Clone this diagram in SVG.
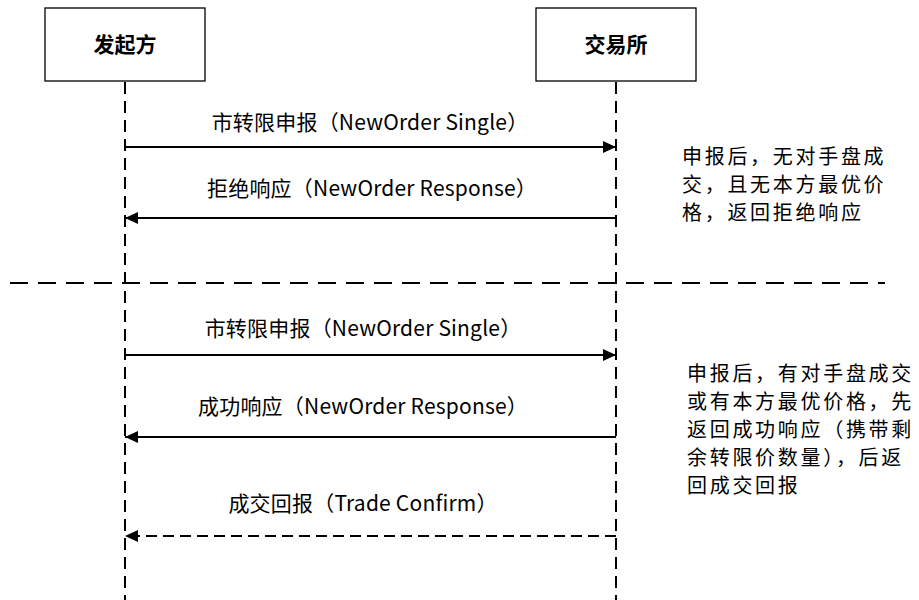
<svg xmlns="http://www.w3.org/2000/svg" width="919" height="600" viewBox="0 0 919 600">
<defs>
<style>
.box{fill:#fff;stroke:#000;stroke-width:1.3}
.title{font-family:"Noto Sans CJK SC","Liberation Sans",sans-serif;font-size:21px;font-weight:bold;text-anchor:middle;fill:#000}
.life{stroke:#000;stroke-width:2;stroke-dasharray:12 7;fill:none}
.msg{stroke:#000;stroke-width:2;fill:none}
.dmsg{stroke:#000;stroke-width:2;fill:none;stroke-dasharray:11 6}
.sep{stroke:#000;stroke-width:2;stroke-dasharray:18 10;fill:none}
.lbl{font-family:"Noto Sans CJK SC","Liberation Sans",sans-serif;font-size:21px;text-anchor:middle;fill:#000;letter-spacing:0.2px}
.note{font-family:"Noto Sans CJK SC","Liberation Sans",sans-serif;font-size:20px;fill:#000;letter-spacing:2.7px}
</style>
<marker id="ah" markerWidth="14" markerHeight="12" refX="13" refY="6" orient="auto" markerUnits="userSpaceOnUse">
<path d="M0,0 L13,6 L0,12 Z" fill="#000"/>
</marker>
</defs>
<rect width="919" height="600" fill="#fff"/>
<g id="initiator">
<rect class="box" x="45" y="8" width="160" height="73"/>
<text class="title" x="125" y="52">发起方</text>
</g>
<g id="exchange">
<rect class="box" x="536" y="8" width="160" height="73"/>
<text class="title" x="616" y="52">交易所</text>
</g>
<g id="lifelines">
<line class="life" x1="125" y1="82" x2="125" y2="600"/>
<line class="life" x1="616" y1="82" x2="616" y2="600"/>
</g>
<g id="separator">
<line class="sep" x1="10" y1="283" x2="885" y2="283"/>
</g>
<g id="connectors">
<line class="msg" x1="125" y1="147" x2="616" y2="147" marker-end="url(#ah)"/>
<line class="msg" x1="616" y1="218" x2="125" y2="218" marker-end="url(#ah)"/>
<line class="msg" x1="125" y1="355" x2="616" y2="355" marker-end="url(#ah)"/>
<line class="msg" x1="616" y1="437" x2="125" y2="437" marker-end="url(#ah)"/>
<line class="dmsg" x1="616" y1="536" x2="125" y2="536" marker-end="url(#ah)"/>
</g>
<g id="labels">
<text class="lbl" x="370" y="130">市转限申报（NewOrder Single）</text>
<text class="lbl" x="372" y="196">拒绝响应（NewOrder Response）</text>
<text class="lbl" x="363" y="336">市转限申报（NewOrder Single）</text>
<text class="lbl" x="363" y="414">成功响应（NewOrder Response）</text>
<text class="lbl" x="363" y="511">成交回报（Trade Confirm）</text>
</g>
<g id="note1">
<text class="note" x="682" y="164">申报后，无对手盘成</text>
<text class="note" x="682" y="192">交，且无本方最优价</text>
<text class="note" x="682" y="220">格，返回拒绝响应</text>
</g>
<g id="note2">
<text class="note" x="687" y="381">申报后，有对手盘成交</text>
<text class="note" x="687" y="409">或有本方最优价格，先</text>
<text class="note" x="687" y="437">返回成功响应（携带剩</text>
<text class="note" x="687" y="465">余转限价数量），后返</text>
<text class="note" x="687" y="493">回成交回报</text>
</g>
</svg>
